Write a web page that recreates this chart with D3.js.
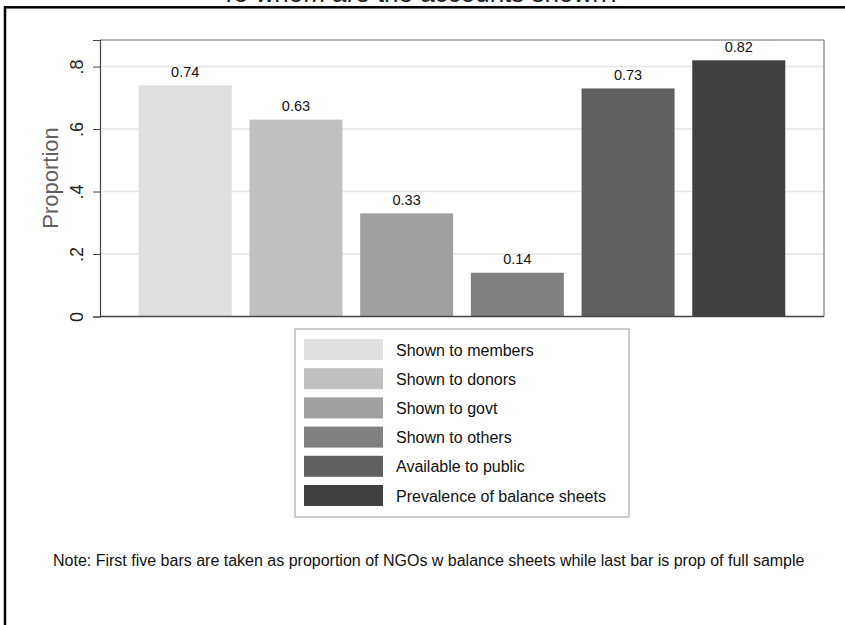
<!DOCTYPE html>
<html>
<head>
<meta charset="utf-8">
<script src="https://cdn.jsdelivr.net/npm/d3@7"></script>
<style>
  html, body { margin: 0; padding: 0; background: #fff; }
  svg { display: block; font-family: "Liberation Sans", Arial, sans-serif; }
</style>
</head>
<body>
<svg id="chart" width="845" height="625"></svg>
<script>
const categories = ["Shown to members", "Shown to donors", "Shown to govt", "Shown to others", "Available to public", "Prevalence of balance sheets"];
const values = [0.74, 0.63, 0.33, 0.14, 0.73, 0.82];
const valueLabels = ["0.74", "0.63", "0.33", "0.14", "0.73", "0.82"];
const colors = ["#e0e0e0", "#c0c0c0", "#a0a0a0", "#808080", "#606060", "#404040"];
const yTicks = [0, 0.2, 0.4, 0.6, 0.8];
const yTickLabels = ["0", ".2", ".4", ".6", ".8"];
const titleText = "To whom are the accounts shown?";
const yTitle = "Proportion";
const noteText = "Note: First five bars are taken as proportion of NGOs w balance sheets while last bar is prop of full sample";

const svg = d3.select("#chart");
const W = 845, H = 625;
const plot = { left: 100, right: 824, top: 40, bottom: 316.5 };

// outer frame (extends past right/bottom edges)
svg.append("rect").attr("x", 5).attr("y", 7.3).attr("width", W + 20).attr("height", H + 20)
  .attr("fill", "none").attr("stroke", "#000").attr("stroke-width", 2.5);

// title (mostly cut off above the frame, as in the reference)
svg.append("text").attr("x", 421).attr("y", 2).attr("text-anchor", "middle")
  .attr("font-size", 26).attr("fill", "#222").text(titleText);

const x = d3.scaleBand().domain(categories).range([plot.left, plot.right])
  .paddingInner(0.16).paddingOuter(0.35);
const y = d3.scaleLinear().domain([0, 0.885]).range([plot.bottom, plot.top]);

// gridlines
svg.append("g").selectAll("line").data(yTicks.filter(d => d > 0)).join("line")
  .attr("x1", plot.left).attr("x2", plot.right)
  .attr("y1", d => y(d)).attr("y2", d => y(d))
  .attr("stroke", "#e6e6e6").attr("stroke-width", 1.4);

// plot border top/right
svg.append("path")
  .attr("d", `M${plot.left},${plot.top}H${plot.right}V${plot.bottom}`)
  .attr("fill", "none").attr("stroke", "#666").attr("stroke-width", 1);

// bars
svg.append("g").selectAll("rect").data(values).join("rect")
  .attr("x", (d, i) => x(categories[i]))
  .attr("width", x.bandwidth())
  .attr("y", d => y(d))
  .attr("height", d => y(0) - y(d))
  .attr("fill", (d, i) => colors[i]);

// value labels
svg.append("g").selectAll("text").data(values).join("text")
  .attr("x", (d, i) => x(categories[i]) + x.bandwidth() / 2)
  .attr("y", d => y(d) - 8.5)
  .attr("text-anchor", "middle").attr("font-size", 14.5).attr("fill", "#111")
  .text((d, i) => valueLabels[i]);

// y axis
const yAxis = d3.axisLeft(y).tickValues(yTicks).tickSize(7).tickPadding(3)
  .tickFormat((d, i) => yTickLabels[i]);
const gy = svg.append("g").attr("transform", `translate(${plot.left},0)`).call(yAxis);
gy.select(".domain").attr("stroke", "#444").attr("stroke-width", 1.2);
gy.selectAll(".tick line").attr("stroke", "#444");
gy.selectAll(".tick text")
  .attr("font-size", 18).attr("fill", "#222")
  .attr("text-anchor", "middle")
  .attr("x", 0).attr("dy", null)
  .attr("y", 0)
  .attr("transform", "translate(-17,0) rotate(-90)");

// x axis line
svg.append("line").attr("x1", plot.left).attr("x2", plot.right)
  .attr("y1", plot.bottom).attr("y2", plot.bottom)
  .attr("stroke", "#444").attr("stroke-width", 1.4);

// y title
svg.append("text").attr("transform", "translate(58,178) rotate(-90)")
  .attr("text-anchor", "middle").attr("font-size", 22).attr("fill", "#606060")
  .text(yTitle);

// legend
const lg = { x: 295, y: 329, w: 334, h: 188 };
svg.append("rect").attr("x", lg.x).attr("y", lg.y).attr("width", lg.w).attr("height", lg.h)
  .attr("fill", "#fff").attr("stroke", "#999").attr("stroke-width", 1);
const rowY = d3.scalePoint().domain(categories).range([349.5, 495.5]);
const items = svg.append("g").selectAll("g").data(categories).join("g")
  .attr("transform", d => `translate(0,${rowY(d)})`);
items.append("rect").attr("x", 304).attr("y", -10.5).attr("width", 79).attr("height", 21)
  .attr("fill", (d, i) => colors[i]);
items.append("text").attr("x", 396).attr("y", 6).attr("font-size", 16).attr("fill", "#111")
  .text(d => d);

// note
svg.append("text").attr("x", 53).attr("y", 566).attr("font-size", 16).attr("fill", "#111")
  .text(noteText);
</script>
</body>
</html>
